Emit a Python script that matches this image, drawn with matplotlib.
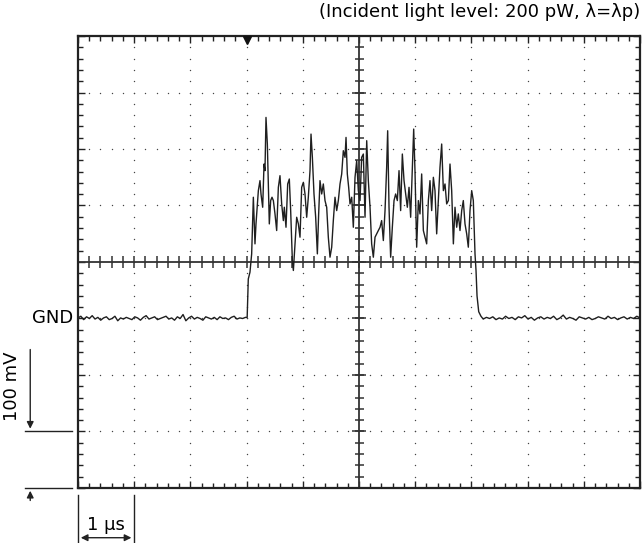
import numpy as np
import matplotlib.pyplot as plt
from matplotlib.ticker import MultipleLocator

# scope trace, in divisions (x: 1 us/div, y: 100 mV/div), GND at -1 div
base_left = [-0.99, -0.96, -1.02, -0.97, -1.00, -0.95, -1.01, -0.98, -1.03, -0.99,
             -0.97, -1.02, -1.00, -0.96, -1.04, -0.99, -1.01, -0.98, -1.00, -1.02,
             -0.97, -0.99, -1.03, -0.98, -0.95, -1.01, -0.99, -0.97, -1.02, -1.00,
             -0.98, -0.96, -1.01, -0.99, -1.03, -0.97, -1.00, -0.93, -1.04, -0.99,
             -0.96, -1.01, -0.98, -1.00, -1.03, -0.97, -0.99, -1.01, -0.98, -1.02,
             -0.97, -1.00, -0.99, -1.02, -0.98, -0.96, -1.01, -0.99, -1.00, -0.98]
base_right = [-1.01, -0.98, -1.00, -0.97, -1.02, -0.99, -1.01, -0.96, -1.00, -0.98,
              -1.02, -0.97, -0.99, -0.95, -1.01, -0.98, -1.03, -0.99, -0.97, -1.01,
              -0.98, -1.00, -0.96, -1.02, -0.99, -0.94, -1.01, -0.98, -1.00, -1.03,
              -0.97, -0.99, -1.01, -0.98, -1.02, -1.00, -0.97, -0.99, -1.01, -0.96,
              -1.00, -0.98, -1.02, -0.99, -0.97, -1.01, -0.98, -1.00, -0.96, -0.99]

pulse_t = [3.01, 3.03,
           3.060, 3.090, 3.120, 3.149, 3.167, 3.209, 3.238, 3.256, 3.286, 3.310,
           3.327, 3.345, 3.369, 3.387, 3.404, 3.428, 3.452, 3.476, 3.505, 3.535,
           3.565, 3.594, 3.624, 3.654, 3.671, 3.701, 3.731, 3.760, 3.784, 3.814,
           3.832, 3.861, 3.891, 3.921, 3.950, 3.980, 4.010, 4.039, 4.069, 4.098,
           4.128, 4.146, 4.170, 4.199, 4.229, 4.259, 4.282, 4.306, 4.336, 4.365,
           4.395, 4.425, 4.454, 4.484, 4.514, 4.543, 4.573, 4.603, 4.632, 4.662,
           4.692, 4.721, 4.751, 4.769, 4.792, 4.816, 4.840, 4.870, 4.899, 4.929,
           4.959, 4.988, 5.018, 5.047, 5.077, 5.107, 5.137, 5.166, 5.196, 5.225,
           5.255, 5.285, 5.314, 5.344, 5.374, 5.403, 5.433, 5.463, 5.492, 5.510,
           5.534, 5.563, 5.593, 5.623, 5.652, 5.682, 5.712, 5.741, 5.771, 5.801,
           5.830, 5.860, 5.890, 5.919, 5.949, 5.973, 5.996, 6.026, 6.056, 6.085,
           6.115, 6.145, 6.174, 6.204, 6.234, 6.263, 6.293, 6.323, 6.352, 6.382,
           6.412, 6.441, 6.471, 6.501, 6.530, 6.560, 6.590, 6.619, 6.649, 6.679,
           6.708, 6.738, 6.767, 6.797, 6.827, 6.856, 6.886, 6.916, 6.945, 6.975,
           7.005, 7.034, 7.064, 7.082, 7.100, 7.130, 7.170]
pulse_v = [-0.98, -0.30,
           -0.180, 0.144, 1.146, 0.321, 0.674, 1.263, 1.440, 1.204, 0.969, 1.734,
           1.617, 2.559, 2.088, 1.381, 0.674, 1.087, 1.146, 1.087, 0.851, 0.557,
           1.322, 1.528, 1.028, 0.733, 0.969, 0.615, 1.381, 1.469, 0.910, 0.027,
           -0.150, 0.321, 0.792, 0.674, 0.439, 1.322, 1.410, 1.204, 0.792, 1.146,
           1.617, 2.264, 1.852, 1.204, 0.792, 0.144, 0.851, 1.440, 1.204, 1.381,
           1.087, 0.969, 0.439, 0.085, 0.262, 0.733, 1.146, 0.910, 1.087, 1.381,
           1.558, 1.970, 1.852, 2.205, 1.558, 1.322, 1.028, 1.146, 0.615, 1.499,
           1.793, 1.263, 1.087, 1.852, 1.911, 0.792, 2.147, 1.440, 0.969, 0.321,
           0.085, 0.439, 0.498, 0.557, 0.615, 0.733, 0.380, 0.910, 1.675, 2.323,
           0.969, 0.085, 0.615, 1.087, 1.204, 1.087, 1.617, 0.910, 1.911, 1.440,
           1.204, 0.969, 1.322, 0.792, 1.675, 2.353, 1.617, 0.262, 1.087, 0.851,
           1.558, 0.557, 0.439, 0.321, 1.087, 1.440, 0.910, 1.499, 1.263, 0.498,
           1.087, 1.675, 2.088, 1.263, 1.381, 1.028, 1.087, 1.734, 1.263, 0.321,
           0.969, 0.615, 0.851, 0.557, 0.910, 1.087, 0.674, 0.498, 0.262, 0.910,
           1.263, 1.087, 0.144, -0.150, -0.600, -0.880, -0.960]

t_left = np.linspace(0.0, 2.98, len(base_left))
t_right = np.linspace(7.21, 10.0, len(base_right))
t = np.concatenate([t_left, pulse_t, t_right])
v = np.concatenate([base_left, pulse_v, base_right])

fig = plt.figure(figsize=(6.42, 5.43), dpi=100)
ax = fig.add_axes([0.1215, 0.1013, 0.8754, 0.8324])
ax.set_xlim(0, 10)
ax.set_ylim(-4, 4)

# dotted graticule
for i in range(1, 10):
    yy = np.arange(-4, 4.01, 0.2)
    ax.scatter(np.full(yy.size, i), yy, s=1.0, color='#444444', lw=0, zorder=1)
for j in range(-3, 4):
    xx = np.arange(0, 10.01, 0.2)
    ax.scatter(xx, np.full(xx.size, j), s=1.0, color='#444444', lw=0, zorder=1)

# centre cross with minor ticks
ax.axhline(0, color='#333333', lw=1.3, zorder=2)
ax.axvline(5, color='#333333', lw=1.3, zorder=2)
xt = np.arange(0, 10.01, 0.2)
ax.vlines(xt, -0.1, 0.1, color='#333333', lw=1.1, zorder=2)
yt = np.arange(-4, 4.01, 0.2)
ax.hlines(yt, 4.92, 5.08, color='#333333', lw=1.1, zorder=2)
ax.hlines(np.arange(-4, 5), 4.88, 5.12, color='#333333', lw=1.1, zorder=2)

# frame ticks
ax.xaxis.set_major_locator(MultipleLocator(1))
ax.xaxis.set_minor_locator(MultipleLocator(0.2))
ax.yaxis.set_major_locator(MultipleLocator(1))
ax.yaxis.set_minor_locator(MultipleLocator(0.2))
ax.tick_params(which='both', direction='in', top=True, right=True,
               labelbottom=False, labelleft=False, color='#222222', width=1)
ax.tick_params(which='major', length=5)
ax.tick_params(which='minor', length=3.5)
for s in ax.spines.values():
    s.set_linewidth(1.6)
    s.set_color('#222222')

ax.plot(t, v, color='#1f1f1f', lw=1.0, zorder=3)

# trigger marker
ax.plot([3.0], [3.93], marker='v', color='#111111', ms=6, clip_on=False, zorder=4)

ax.text(-0.08, -1, 'GND', ha='right', va='center', fontsize=13)
fig.text(0.997, 0.978, '(Incident light level: 200 pW, \u03bb=\u03bbp)',
         ha='right', va='center', fontsize=13)

# 100 mV dimension
ax.annotate('', xy=(-0.85, -3), xytext=(-0.85, -1.5), xycoords='data',
            arrowprops=dict(arrowstyle='-|>', color='#222222', lw=1, mutation_scale=10),
            annotation_clip=False)
ax.annotate('', xy=(-0.85, -4), xytext=(-0.85, -4.27), xycoords='data',
            arrowprops=dict(arrowstyle='-|>', color='#222222', lw=1, mutation_scale=10),
            annotation_clip=False)
ax.plot([-0.95, -0.1], [-3, -3], color='#222222', lw=1, clip_on=False)
ax.plot([-0.95, -0.1], [-4, -4], color='#222222', lw=1, clip_on=False)
ax.text(-1.17, -2.2, '100 mV', rotation=90, ha='center', va='center', fontsize=13)

# 1 us dimension
ax.plot([0, 0], [-4.13, -4.95], color='#222222', lw=1, clip_on=False)
ax.plot([1, 1], [-4.13, -4.95], color='#222222', lw=1, clip_on=False)
ax.annotate('', xy=(0, -4.88), xytext=(1, -4.88), xycoords='data',
            arrowprops=dict(arrowstyle='<|-|>', color='#222222', lw=1, mutation_scale=10),
            annotation_clip=False)
ax.text(0.5, -4.65, '1 \u03bcs', ha='center', va='center', fontsize=13)

fig.savefig('out.png', dpi=100)
